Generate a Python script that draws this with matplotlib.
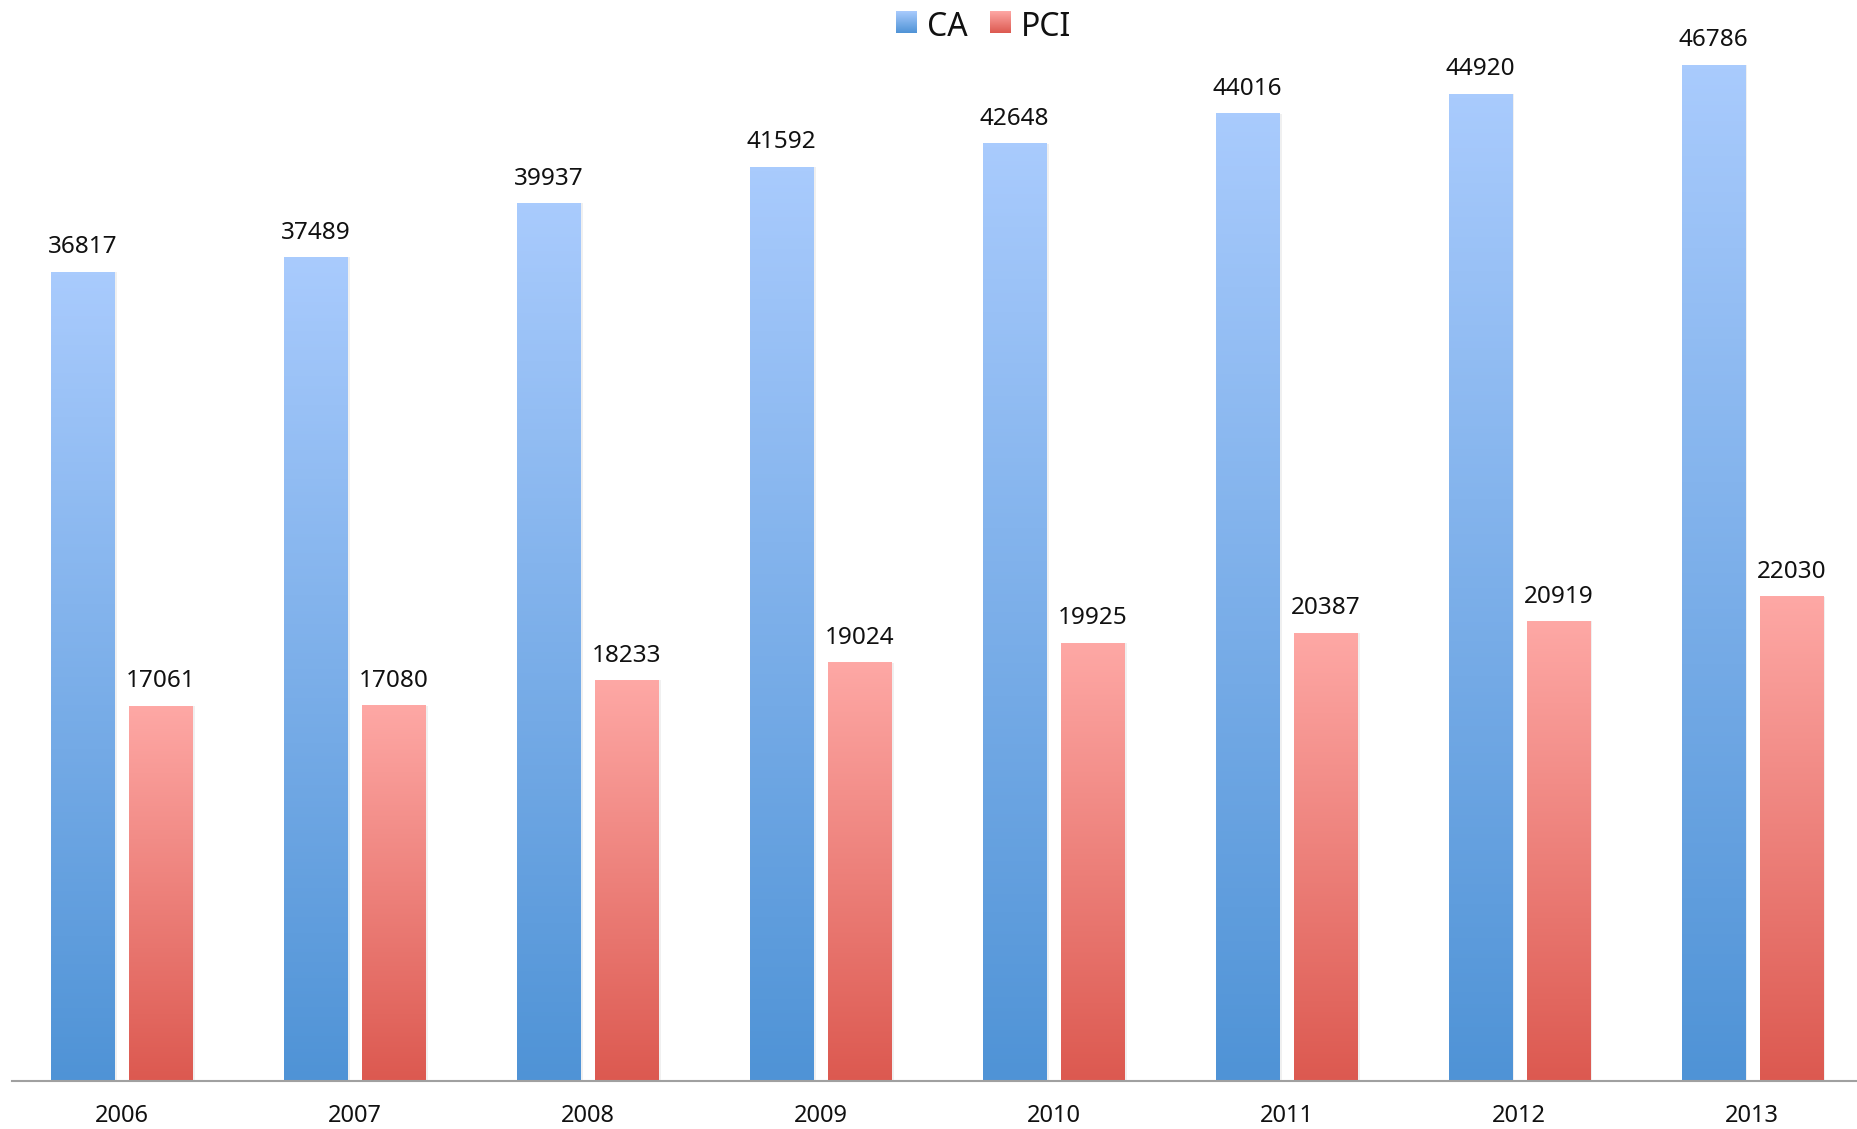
import numpy as np
import matplotlib.pyplot as plt
from matplotlib.colors import LinearSegmentedColormap

years = ['2006', '2007', '2008', '2009', '2010', '2011', '2012', '2013']
ca = [36817, 37489, 39937, 41592, 42648, 44016, 44920, 46786]
pci = [17061, 17080, 18233, 19024, 19925, 20387, 20919, 22030]

plt.rcParams['font.family'] = ['Noto Sans', 'DejaVu Sans']

W, H = 1858, 1129
fig = plt.figure(figsize=(W / 100, H / 100), dpi=100)
# axes area in pixels: x 12..1858, y 65..1081
ax = fig.add_axes([12 / W, (H - 1081) / H, (W - 12) / W, (1081 - 65) / H])

blue_cm = LinearSegmentedColormap.from_list('b', ['#4f93d6', '#a9cbfd'])
red_cm = LinearSegmentedColormap.from_list('r', ['#dc5950', '#fea8a5'])
grad = np.linspace(0, 1, 256).reshape(-1, 1)

x = np.arange(len(years))
bw = 0.2705
off = 0.1675
ymax = 46240  # top of plot area, the tallest bar is cut here


def grad_bars(xs, vals, cmap):
    bars = ax.bar(xs, vals, bw, color='none', edgecolor='none', zorder=2)
    for b, v in zip(bars, vals):
        x0, w = b.get_x(), b.get_width()
        top = min(v, ymax)
        # faint shadow
        ax.bar(x0 + w / 2 + 0.006, top, w + 0.01, color='#000000', alpha=0.06,
               edgecolor='none', zorder=1)
        ax.imshow(grad, cmap=cmap, aspect='auto', origin='lower',
                  extent=[x0, x0 + w, 0, top], zorder=3)
        ax.annotate(str(v), (x0 + w / 2, top), xytext=(0, 13.5),
                    textcoords='offset points', ha='center', va='baseline',
                    fontsize=17.5, color='#111111', annotation_clip=False)


grad_bars(x - off, ca, blue_cm)
grad_bars(x + off, pci, red_cm)

ax.set_xlim(-0.472, 7.454)
ax.set_ylim(0, ymax)
for s in ['top', 'right', 'left']:
    ax.spines[s].set_visible(False)
ax.spines['bottom'].set_color('#a0a0a0')
ax.spines['bottom'].set_linewidth(1.5)
ax.spines['bottom'].set_zorder(5)
ax.set_yticks([])
ax.set_xticks(x)
ax.set_xticklabels(years, fontsize=17, color='#111111')
ax.tick_params(axis='x', length=0, pad=16.5)

# legend
for px, cmap, label, tx in [(896, blue_cm, 'CA', 927), (990, red_cm, 'PCI', 1021)]:
    lax = fig.add_axes([px / W, (H - 33) / H, 21 / W, 22 / H])
    lax.imshow(grad, cmap=cmap, aspect='auto', origin='lower')
    lax.axis('off')
    fig.text(tx / W, (H - 36) / H, label, fontsize=23, ha='left', va='baseline',
             color='#111111')

fig.savefig('out.png', dpi=100)
